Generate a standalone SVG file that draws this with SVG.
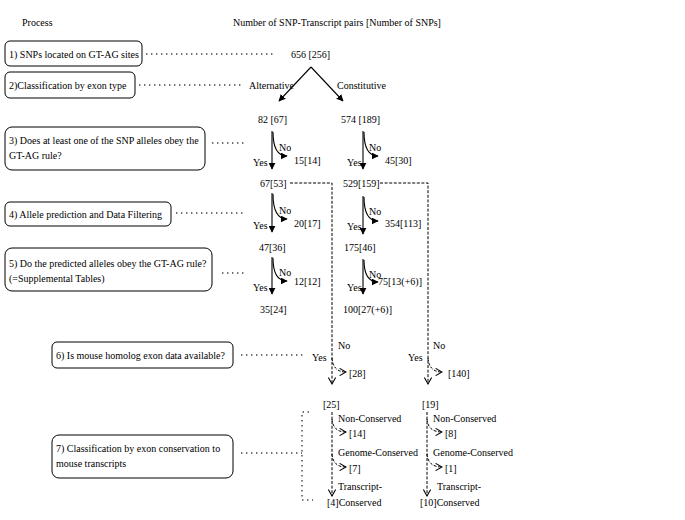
<svg xmlns="http://www.w3.org/2000/svg" width="685" height="520" viewBox="0 0 685 520">
<defs>
<style>
.t{font-family:"Liberation Serif","Times New Roman",serif;font-size:10px;fill:#000}
.box{fill:#fff;stroke:#000;stroke-width:1}
.dots{stroke:#444;stroke-width:1.4;stroke-dasharray:1.4 3.6;fill:none}
.sol{stroke:#000;stroke-width:1.1;fill:none}
.dash{stroke:#000;stroke-width:1;stroke-dasharray:3 1.6;fill:none}
</style>
<marker id="af" viewBox="0 0 10 10" refX="9" refY="5" markerWidth="7" markerHeight="7" markerUnits="userSpaceOnUse" orient="auto">
<path d="M0,0 L10,5 L0,10 z" fill="#000"/>
</marker>
<marker id="av" viewBox="0 0 10 10" refX="9" refY="5" markerWidth="8" markerHeight="8" markerUnits="userSpaceOnUse" orient="auto">
<path d="M1,0.5 L9,5 L1,9.5" fill="none" stroke="#000" stroke-width="1.3"/>
</marker>
</defs>
<rect width="685" height="520" fill="#fff"/>

<text class="t" x="22" y="26">Process</text>
<text class="t" x="233" y="26">Number of SNP-Transcript pairs [Number of SNPs]</text>

<g id="step1">
<rect class="box" x="5" y="41" width="137" height="25" rx="5"/>
<text class="t" x="9" y="58">1) SNPs located on GT-AG sites</text>
</g>
<g id="step2">
<rect class="box" x="5" y="72" width="130" height="26" rx="5"/>
<text class="t" x="9" y="89">2)Classification by exon type</text>
</g>
<g id="step3">
<rect class="box" x="5" y="127" width="200" height="43" rx="7"/>
<text class="t" x="9" y="144">3) Does at least one of the SNP alleles obey the</text>
<text class="t" x="9" y="159">GT-AG rule?</text>
</g>
<g id="step4">
<rect class="box" x="5" y="202" width="166" height="24" rx="5"/>
<text class="t" x="9" y="218">4) Allele prediction and Data Filtering</text>
</g>
<g id="step5">
<rect class="box" x="5" y="248" width="207" height="43" rx="7"/>
<text class="t" x="9" y="267">5) Do the predicted alleles obey the GT-AG rule?</text>
<text class="t" x="9" y="282">(=Supplemental Tables)</text>
</g>
<g id="step6">
<rect class="box" x="52" y="342" width="181" height="26" rx="5"/>
<text class="t" x="56" y="359">6) Is mouse homolog exon data available?</text>
</g>
<g id="step7">
<rect class="box" x="52" y="435" width="181" height="43" rx="7"/>
<text class="t" x="56" y="452">7) Classification by exon conservation to</text>
<text class="t" x="56" y="467">mouse transcripts</text>
</g>

<g id="counts">
<text class="t" x="291" y="58">656 [256]</text>
<text class="t" x="249" y="89">Alternative</text>
<text class="t" x="337" y="89">Constitutive</text>
<text class="t" x="258" y="123">82 [67]</text>
<text class="t" x="341" y="123">574 [189]</text>
<text class="t" x="294" y="164">15[14]</text>
<text class="t" x="385" y="164">45[30]</text>
<text class="t" x="260" y="187">67[53]</text>
<text class="t" x="343" y="187">529[159]</text>
<text class="t" x="294" y="227">20[17]</text>
<text class="t" x="385" y="227">354[113]</text>
<text class="t" x="259" y="251">47[36]</text>
<text class="t" x="344" y="251">175[46]</text>
<text class="t" x="294" y="285">12[12]</text>
<text class="t" x="378" y="285">75[13(+6)]</text>
<text class="t" x="260" y="313">35[24]</text>
<text class="t" x="343" y="313">100[27(+6)]</text>
<text class="t" x="349" y="377">[28]</text>
<text class="t" x="448" y="377">[140]</text>
<text class="t" x="323" y="408">[25]</text>
<text class="t" x="422" y="408">[19]</text>
<text class="t" x="338" y="422">Non-Conserved</text>
<text class="t" x="349" y="437">[14]</text>
<text class="t" x="338" y="456">Genome-Conserved</text>
<text class="t" x="349" y="472">[7]</text>
<text class="t" x="338" y="490">Transcript-</text>
<text class="t" x="327" y="506">[4]Conserved</text>
<text class="t" x="433" y="422">Non-Conserved</text>
<text class="t" x="445" y="437">[8]</text>
<text class="t" x="433" y="456">Genome-Conserved</text>
<text class="t" x="445" y="472">[1]</text>
<text class="t" x="437" y="490">Transcript-</text>
<text class="t" x="420" y="506">[10]Conserved</text>
</g>

<g id="labels">
<text class="t" x="279" y="151">No</text>
<text class="t" x="253" y="166">Yes</text>
<text class="t" x="369" y="151">No</text>
<text class="t" x="347" y="166">Yes</text>
<text class="t" x="279" y="214">No</text>
<text class="t" x="253" y="229">Yes</text>
<text class="t" x="369" y="215">No</text>
<text class="t" x="347" y="230">Yes</text>
<text class="t" x="279" y="276">No</text>
<text class="t" x="253" y="291">Yes</text>
<text class="t" x="369" y="278">No</text>
<text class="t" x="347" y="291">Yes</text>
<text class="t" x="338" y="349">No</text>
<text class="t" x="312" y="361">Yes</text>
<text class="t" x="433" y="349">No</text>
<text class="t" x="408" y="361">Yes</text>
</g>

<g id="connectors">
<line class="dots" x1="146" y1="54" x2="275" y2="54"/>
<line class="dots" x1="139" y1="85" x2="242" y2="85"/>
<line class="dots" x1="212" y1="143" x2="247" y2="143"/>
<line class="dots" x1="176" y1="213" x2="246" y2="213"/>
<line class="dots" x1="222" y1="273" x2="247" y2="273"/>
<line class="dots" x1="241" y1="355" x2="304" y2="355"/>
<line class="dots" x1="241" y1="453" x2="302" y2="453"/>
<path class="dots" d="M309,412 H302 V500 H313"/>

<line class="sol" x1="311" y1="67" x2="279" y2="101" marker-end="url(#af)"/>
<line class="sol" x1="311" y1="67" x2="343" y2="101" marker-end="url(#af)"/>

<line class="sol" x1="272" y1="131" x2="272" y2="169" marker-end="url(#af)"/>
<path class="sol" d="M273,132 Q273,156 287,156" marker-end="url(#af)"/>
<line class="sol" x1="363" y1="131" x2="363" y2="169" marker-end="url(#af)"/>
<path class="sol" d="M364,132 Q364,156 378,156" marker-end="url(#af)"/>

<line class="sol" x1="272" y1="193" x2="272" y2="232" marker-end="url(#af)"/>
<path class="sol" d="M273,194 Q273,219 287,219" marker-end="url(#af)"/>
<line class="sol" x1="363" y1="196" x2="363" y2="234" marker-end="url(#af)"/>
<path class="sol" d="M364,197 Q364,221 378,221" marker-end="url(#af)"/>

<line class="sol" x1="272" y1="257" x2="272" y2="294" marker-end="url(#af)"/>
<path class="sol" d="M273,258 Q273,281 287,281" marker-end="url(#af)"/>
<line class="sol" x1="363" y1="259" x2="363" y2="294" marker-end="url(#af)"/>
<path class="sol" d="M364,260 Q364,282 378,282" marker-end="url(#af)"/>

<path class="dash" d="M290,183 H332 V384" marker-end="url(#av)"/>
<path class="dash" d="M332,358 Q333,372 346,372" marker-end="url(#av)"/>
<path class="dash" d="M380,183 H428 V384" marker-end="url(#av)"/>
<path class="dash" d="M428,358 Q429,372 442,372" marker-end="url(#av)"/>

<path class="dash" d="M332,412 V496" marker-end="url(#av)"/>
<path class="dash" d="M332,419 Q333,432 346,432" marker-end="url(#av)"/>
<path class="dash" d="M332,454 Q333,467 346,467" marker-end="url(#av)"/>
<path class="dash" d="M427,412 V496" marker-end="url(#av)"/>
<path class="dash" d="M427,419 Q428,432 442,432" marker-end="url(#av)"/>
<path class="dash" d="M427,454 Q428,467 442,467" marker-end="url(#av)"/>
</g>
</svg>
